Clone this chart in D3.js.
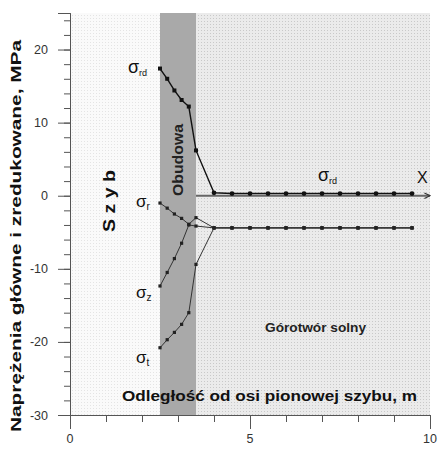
<!DOCTYPE html>
<html><head><meta charset="utf-8">
<script src="https://cdn.jsdelivr.net/npm/d3@7"></script>
<style>html,body{margin:0;padding:0;background:#fff}svg{display:block}</style>
</head><body>
<script>
// ---- data ----
const xLining = [2.5, 2.7, 2.9, 3.1, 3.3, 3.5];
const xRock = [4.0, 4.5, 5.0, 5.5, 6.0, 6.5, 7.0, 7.5, 8.0, 8.5, 9.0, 9.5];
const sigmaRd = [17.4, 16.0, 14.4, 13.1, 12.2, 6.2, 0.4, 0.3, 0.3, 0.3, 0.3, 0.3, 0.3, 0.3, 0.3, 0.3, 0.3, 0.3];
const sigmaR = [-1.0, -1.7, -2.5, -3.1, -3.9, -3.0, -4.4, -4.4, -4.4, -4.4, -4.4, -4.4, -4.4, -4.4, -4.4, -4.4, -4.4, -4.4];
const sigmaZ = [-12.35, -10.5, -8.6, -6.5, -4.0, -4.15, -4.4, -4.4, -4.4, -4.4, -4.4, -4.4, -4.4, -4.4, -4.4, -4.4, -4.4, -4.4];
const sigmaT = [-20.8, -19.7, -18.7, -17.6, -16.0, -9.4, -4.4, -4.4, -4.4, -4.4, -4.4, -4.4, -4.4, -4.4, -4.4, -4.4, -4.4, -4.4];
const xTicks = [0, 5, 10];
const yTicks = [-30, -20, -10, 0, 10, 20];
const zones = [{x0: 0, x1: 2.5, fill: "url(#dotsL)"}, {x0: 2.5, x1: 3.5, fill: "#a9a9a9"}, {x0: 3.5, x1: 10, fill: "url(#dotsR)"}];

const xs = xLining.concat(xRock);
const W = 438, H = 449;
const x = d3.scaleLinear().domain([0, 10]).range([70, 430]);
const y = d3.scaleLinear().domain([-30, 25]).range([415, 13]);
const font = "'Liberation Sans', Arial, sans-serif";

const svg = d3.select("body").append("svg").attr("width", W).attr("height", H);
const defs = svg.append("defs");
const pL = defs.append("pattern").attr("id", "dotsL").attr("width", 3).attr("height", 3).attr("patternUnits", "userSpaceOnUse");
pL.append("rect").attr("width", 3).attr("height", 3).attr("fill", "#fafafa");
pL.append("rect").attr("width", 1).attr("height", 1).attr("fill", "#e4e4e4");
const pR = defs.append("pattern").attr("id", "dotsR").attr("width", 3).attr("height", 3).attr("patternUnits", "userSpaceOnUse");
pR.append("rect").attr("width", 3).attr("height", 3).attr("fill", "#ebebeb");
pR.append("rect").attr("width", 1).attr("height", 1).attr("fill", "#c9c9c9");
defs.append("marker").attr("id", "arr").attr("viewBox", "0 0 10 10").attr("refX", 9).attr("refY", 5)
  .attr("markerWidth", 7).attr("markerHeight", 7).attr("markerUnits", "userSpaceOnUse").attr("orient", "auto")
  .append("path").attr("d", "M1,1 L9,5 L1,9").attr("fill", "none").attr("stroke", "#333").attr("stroke-width", 1.6);

// zones
svg.selectAll("rect.zone").data(zones).join("rect").attr("class", "zone")
  .attr("x", d => x(d.x0)).attr("width", d => x(d.x1) - x(d.x0))
  .attr("y", y(25)).attr("height", y(-30) - y(25)).attr("fill", d => d.fill);

// axes
const axY = svg.append("g").attr("transform", `translate(${x(0)},0)`);
axY.call(d3.axisLeft(y).tickValues(d3.range(-28, 25, 2)).tickSize(6).tickFormat(""));
axY.call(g => g.append("g").call(d3.axisLeft(y).tickValues(yTicks).tickSize(12).tickFormat("")));
axY.selectAll("path.domain").attr("stroke", "#555");
axY.selectAll("line").attr("stroke", "#555");
svg.selectAll("text.yt").data(yTicks).join("text").attr("class", "yt")
  .attr("x", 48).attr("y", d => y(d) + 4.5).attr("text-anchor", "end")
  .attr("font-family", font).attr("font-size", 12.5).attr("fill", "#333").text(d => d);

const axX = svg.append("g").attr("transform", `translate(0,${y(-30)})`);
axX.call(d3.axisBottom(x).tickValues(d3.range(0, 11, 1)).tickSize(7).tickFormat(""));
axX.call(g => g.append("g").call(d3.axisBottom(x).tickValues(xTicks).tickSize(14).tickFormat("")));
axX.selectAll("path.domain").attr("stroke", "#555");
axX.selectAll("line").attr("stroke", "#555");
svg.selectAll("text.xt").data(xTicks).join("text").attr("class", "xt")
  .attr("x", d => x(d)).attr("y", 443).attr("text-anchor", "middle")
  .attr("font-family", font).attr("font-size", 12.5).attr("fill", "#333").text(d => d);

// X arrow along zero
svg.append("line").attr("x1", x(3.5)).attr("x2", x(10)).attr("y1", y(0)).attr("y2", y(0))
  .attr("stroke", "#666").attr("stroke-width", 1.8).attr("marker-end", "url(#arr)");

// series lines
const line = d3.line().x(d => x(d[0])).y(d => y(d[1]));
function series(vals, color, w) {
  const pts = xs.map((xv, i) => [xv, vals[i]]);
  svg.append("path").attr("d", line(pts)).attr("fill", "none").attr("stroke", color).attr("stroke-width", w);
  return pts;
}
[sigmaR, sigmaZ, sigmaT].forEach(s => {
  const pts = series(s, "#333", 1);
  svg.append("g").selectAll("rect").data(pts).join("rect")
    .attr("x", d => x(d[0]) - 1.6).attr("y", d => y(d[1]) - 1.6).attr("width", 3.2).attr("height", 3.2).attr("fill", "#222");
});
const rdPts = series(sigmaRd, "#111", 1.4);
svg.append("g").selectAll("path").data(rdPts).join("path")
  .attr("d", (d, i) => i < xLining.length ? d3.symbol(d3.symbolSquare, 16)() : d3.symbol(d3.symbolCircle, 18)())
  .attr("transform", d => `translate(${x(d[0])},${y(d[1])})`).attr("fill", "#111");

// labels
function sig(px, py, sub, big, small) {
  const t = svg.append("text").attr("x", px).attr("y", py).attr("font-family", font).attr("fill", "#111");
  t.append("tspan").attr("font-size", big).text("σ");
  t.append("tspan").attr("font-size", small).attr("dy", 3).text(sub);
}
sig(128, 73, "rd", 18, 9);
sig(318, 181, "rd", 18, 9);
sig(136, 207, "r", 17, 10);
sig(136, 298, "z", 17, 10);
sig(136, 363, "t", 17, 10);
svg.append("text").attr("x", 417).attr("y", 183).attr("font-family", font).attr("font-size", 16).attr("fill", "#111").text("X");

svg.append("text").attr("transform", "translate(183,160) rotate(-90)").attr("text-anchor", "middle")
  .attr("font-family", font).attr("font-weight", "bold").attr("font-size", 14).attr("fill", "#222")
  .attr("textLength", 72).attr("lengthAdjust", "spacingAndGlyphs").text("Obudowa");
svg.append("text").attr("transform", "translate(115,201) rotate(-90)").attr("text-anchor", "middle")
  .attr("font-family", font).attr("font-weight", "bold").attr("font-size", 16).attr("fill", "#111")
  .attr("textLength", 62).attr("lengthAdjust", "spacingAndGlyphs").text("S z y b");
svg.append("text").attr("x", 265).attr("y", 332)
  .attr("font-family", font).attr("font-weight", "bold").attr("font-size", 13).attr("fill", "#222")
  .attr("textLength", 101).attr("lengthAdjust", "spacingAndGlyphs").text("Górotwór solny");
svg.append("text").attr("x", 122).attr("y", 401)
  .attr("font-family", font).attr("font-weight", "bold").attr("font-size", 15).attr("fill", "#111")
  .attr("textLength", 295).attr("lengthAdjust", "spacingAndGlyphs").text("Odległość od osi pionowej szybu, m");
svg.append("text").attr("transform", "translate(21,236) rotate(-90)").attr("text-anchor", "middle")
  .attr("font-family", font).attr("font-weight", "bold").attr("font-size", 15.5).attr("fill", "#111")
  .attr("textLength", 392).attr("lengthAdjust", "spacingAndGlyphs").text("Naprężenia główne i zredukowane, MPa");
</script>
</body></html>
